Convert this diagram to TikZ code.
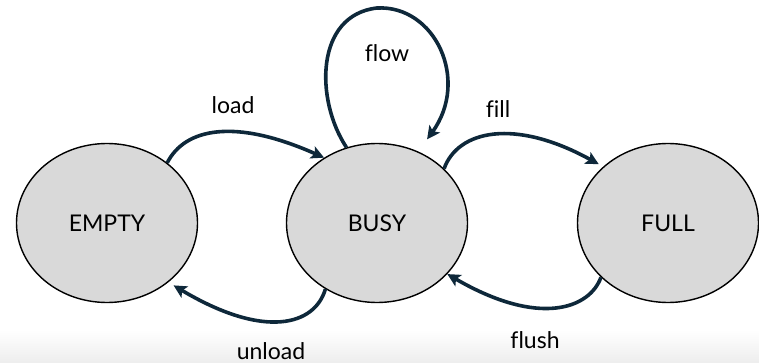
\documentclass[tikz,border=0pt]{standalone}
\usepackage{fontspec}
\setmainfont{Lato}[Ligatures=NoCommon]
\usetikzlibrary{shapes.geometric,arrows.meta}
\definecolor{edgeblue}{RGB}{14,40,58}
\definecolor{stategray}{RGB}{217,217,217}
\begin{document}
\begin{tikzpicture}[x=1pt,y=-1pt,
  state/.style={ellipse,draw=black,line width=1.4pt,fill=stategray,
    minimum width=181pt,minimum height=159pt,inner sep=0pt,
    font=\fontsize{23}{27}\selectfont},
  trans/.style={draw=edgeblue,line width=3.6pt,
    -{Stealth[length=13pt,width=13pt,inset=3pt]}},
  lbl/.style={font=\fontsize{23}{27}\selectfont,inner sep=0pt,anchor=base}]
\useasboundingbox (0,0) rectangle (759,363);
% faint grey band along the bottom edge
\shade[top color=white,bottom color=gray!14] (0,330) rectangle (759,363);

% states
\node[state] (empty) at (107,223) {EMPTY};
\node[state] (busy)  at (377,223) {BUSY};
\node[state] (full)  at (668,223) {FULL};

% transitions
\draw[trans] (empty.45) .. controls (185,128) and (235,118) .. (busy.129);
\draw[trans,shorten >=5pt] (busy.39.5) .. controls (458,130) and (515,118) .. (full.139);
\draw[trans,shorten >=15pt] (busy.112) .. controls (315,100) and (315,15) .. (377,8)
  .. controls (435,5) and (470,80) .. (busy.60);
\draw[trans,shorten >=6pt] (busy.232) .. controls (315,325) and (265,340) .. (empty.316);
\draw[trans] (full.219) .. controls (590,308) and (540,328) .. (busy.324);

% labels
\node[lbl] (lload)   at (233,114) {load};
\node[lbl] (lflow)   at (387,62)  {flow};
\node[lbl] (lfill)   at (498,118) {fill};
\node[lbl] (lunload) at (271,359) {unload};
\node[lbl] (lflush)  at (535,348) {flush};
\end{tikzpicture}
\end{document}
